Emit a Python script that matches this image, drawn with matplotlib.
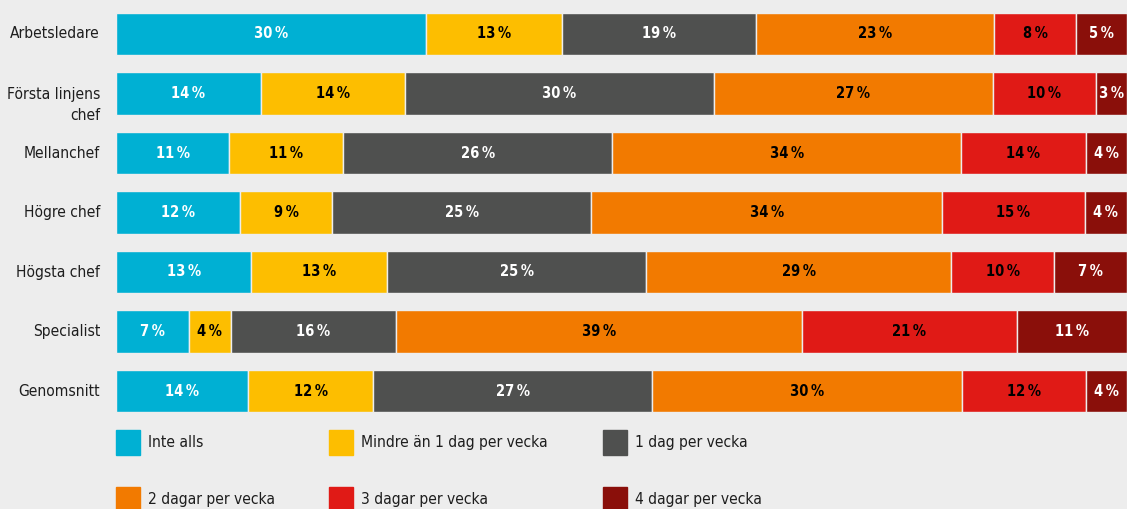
import matplotlib
matplotlib.use("Agg")
import matplotlib.pyplot as plt
from matplotlib.patches import Rectangle
from matplotlib import font_manager
from matplotlib.font_manager import FontProperties
import numpy as np
import os

categories = ["Arbetsledare", "Första linjens\nchef", "Mellanchef", "Högre chef",
              "Högsta chef", "Specialist", "Genomsnitt"]
series = ["Inte alls", "Mindre än 1 dag per vecka", "1 dag per vecka",
          "2 dagar per vecka", "3 dagar per vecka", "4 dagar per vecka"]
# printed labels (%)
inte_alls = [30, 14, 11, 12, 13, 7, 14]
mindre_an_1 = [13, 14, 11, 9, 13, 4, 12]
dag_1 = [19, 30, 26, 25, 25, 16, 27]
dagar_2 = [23, 27, 34, 34, 29, 39, 30]
dagar_3 = [8, 10, 14, 15, 10, 21, 12]
dagar_4 = [5, 3, 4, 4, 7, 11, 4]
# bar lengths as drawn in the picture (%)
inte_alls_len = [30.7, 14.3, 11.2, 12.3, 13.4, 7.2, 13.1]
mindre_an_1_len = [13.4, 14.3, 11.3, 9.1, 13.5, 4.2, 12.4]
dag_1_len = [19.2, 30.5, 26.6, 25.6, 25.6, 16.3, 27.6]
dagar_2_len = [23.5, 27.6, 34.6, 34.7, 30.3, 40.2, 30.7]
dagar_3_len = [8.2, 10.2, 12.3, 14.1, 10.2, 21.3, 12.3]
dagar_4_len = [5.0, 3.1, 4.1, 4.2, 7.2, 10.9, 4.1]

colors = ["#00B0D3", "#FDBE00", "#4F504F", "#F27A00", "#E01A16", "#8A0F0A"]
text_colors = ["white", "black", "white", "black", "black", "white"]
bg = "#EDEDED"


def find_font(cands):
    files = [f.fname for f in font_manager.fontManager.ttflist]
    for c in cands:
        for f in files:
            if os.path.basename(f) == c:
                return f
    return None


reg_file = find_font(["LiberationSansNarrow-Regular.ttf", "DejaVuSansCondensed.ttf"])
bold_file = find_font(["LiberationSansNarrow-Bold.ttf", "DejaVuSansCondensed-Bold.ttf"])


def fp(size, bold=False):
    f = bold_file if bold else reg_file
    if f:
        return FontProperties(fname=f, size=size)
    return FontProperties(family="DejaVu Sans", size=size,
                          weight="bold" if bold else "normal", stretch="condensed")


labels = np.array([inte_alls, mindre_an_1, dag_1, dagar_2, dagar_3, dagar_4])
lens = np.array([inte_alls_len, mindre_an_1_len, dag_1_len, dagar_2_len,
                 dagar_3_len, dagar_4_len], dtype=float)
shares = lens / lens.sum(axis=0) * 100

fig = plt.figure(figsize=(11.27, 5.09), dpi=100, facecolor=bg)
W, H = 1127, 509
top_px, bot_px = 4.25, 420.75
ax = fig.add_axes([116 / W, 1 - bot_px / H, 1 - 116 / W, (bot_px - top_px) / H])
ax.set_facecolor(bg)

y = np.arange(len(categories))
left = np.zeros(len(categories))
for k in range(len(series)):
    ax.barh(y, shares[k], left=left, height=0.706, color=colors[k],
            edgecolor=bg, linewidth=1.0)
    for i in range(len(categories)):
        ax.text(left[i] + shares[k][i] / 2, y[i], f"{labels[k][i]}\u2009%",
                ha="center", va="center", fontproperties=fp(10.5, True),
                color=text_colors[k])
    left += shares[k]

ax.set_xlim(0, 100)
ax.set_ylim(len(categories) - 0.5, -0.5)
ax.axis("off")

for i, c in enumerate(categories):
    off = 0.19 if "\n" in c else 0.0
    ax.text(-16 / 1011 * 100, y[i] + off, c, ha="right", va="center",
            fontproperties=fp(11.2), color="#1e1e1e", linespacing=1.5)

# legend
leg_x = [116, 329, 603]
leg_y = [442.5, 499.5]
for k, s in enumerate(series):
    r, cidx = divmod(k, 3)
    x0 = leg_x[cidx]
    yc = leg_y[r]
    fig.patches.append(Rectangle((x0 / W, 1 - (yc + 12.5) / H), 24 / W, 25 / H,
                                 transform=fig.transFigure, color=colors[k]))
    fig.text((x0 + 32) / W, 1 - yc / H, s, ha="left", va="center",
             fontproperties=fp(11.2), color="#1e1e1e")

fig.savefig("out.png", dpi=100, facecolor=bg)
